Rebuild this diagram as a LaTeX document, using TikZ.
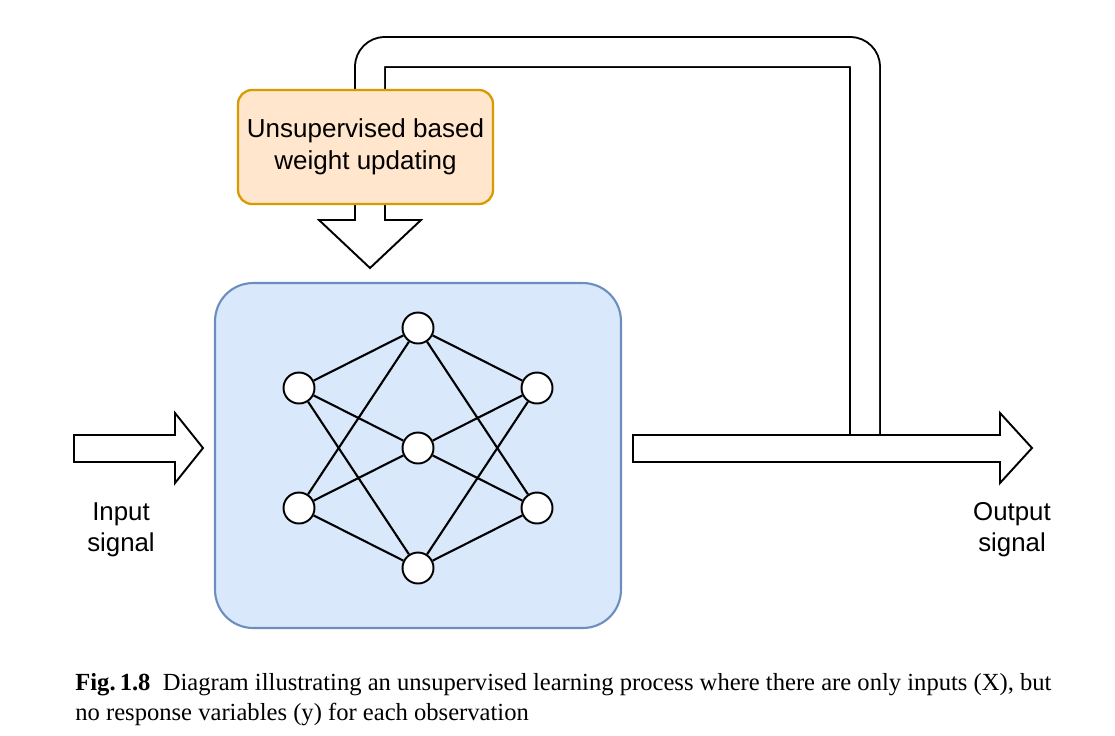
\documentclass[tikz,border=0pt]{standalone}
\usepackage{fontspec}
\setmainfont{Liberation Serif}
\setsansfont{Liberation Sans}
\usetikzlibrary{positioning,calc}

\definecolor{netfill}{HTML}{DAE8FC}
\definecolor{netdraw}{HTML}{6C8EBF}
\definecolor{updfill}{HTML}{FFE6CC}
\definecolor{upddraw}{HTML}{D79B00}

\begin{document}
\begin{tikzpicture}[
    x=0.02cm, y=-0.02cm,
    netbox/.style={rectangle, rounded corners=0.76cm, draw=netdraw, fill=netfill, line width=1.2pt,
                   minimum width=8.12cm, minimum height=6.9cm},
    updbox/.style={rectangle, rounded corners=0.28cm, draw=upddraw, fill=updfill, line width=1.3pt,
                   minimum width=5.1cm, minimum height=2.28cm, align=center,
                   font=\sffamily\fontsize{14.8}{18}\selectfont},
    neuron/.style={circle, draw, fill=white, line width=1.1pt, minimum size=0.62cm, inner sep=0pt},
    link/.style={line width=1.2pt},
    fatarrow/.style={draw, fill=white, line width=1.1pt, line join=miter},
    loopline/.style={line width=1.1pt, double=white, double distance=0.56cm, rounded corners=0.3cm},
    signal/.style={align=center, font=\sffamily\fontsize{14.7}{17.6}\selectfont},
    capt/.style={anchor=base west, inner sep=0pt, font=\fontsize{14}{17.6}\selectfont}
]
\useasboundingbox (0,0) rectangle (1115,735);

% Network box
\node[netbox] (net) at (418,455.5) {};

% Neurons
\foreach \n/\y in {i1/388, i2/508} {
    \node[neuron] (\n) at (299,\y) {};
}
\foreach \n/\y in {h1/328, h2/448, h3/568} {
    \node[neuron] (\n) at (418,\y) {};
}
\foreach \n/\y in {o1/388, o2/508} {
    \node[neuron] (\n) at (537,\y) {};
}
\foreach \i in {i1,i2} {
    \foreach \h in {h1,h2,h3} {
        \draw[link] (\i) -- (\h);
    }
}
\foreach \h in {h1,h2,h3} {
    \foreach \o in {o1,o2} {
        \draw[link] (\h) -- (\o);
    }
}

% Feedback loop
\coordinate (tap) at (865,435);
\coordinate (feed) at (370,90);
\draw[loopline] (tap) -- (865,52) -- (370,52) -- (feed);

% Input and output arrows
\draw[fatarrow] (74,435) -- (175,435) -- (175,413) -- (203,448) -- (175,483) -- (175,462) -- (74,462) -- cycle;
\draw[fatarrow] (633,435) -- (1000,435) -- (1000,413) -- (1032,448) -- (1000,483) -- (1000,462) -- (633,462) -- cycle;

% Weight update box
\draw[fatarrow] (355,200) -- (355,220) -- (319,220) -- (370,268) -- (421,220) -- (385,220) -- (385,200);
\node[updbox] (upd) at (365.5,147) {Unsupervised based\\weight updating};

% Labels
\node[signal] (inlabel) at (121,530) {Input\\signal};
\node[signal] (outlabel) at (1012,530) {Output\\signal};

% Caption
\node[capt] (cap1) at (75,690) {\textbf{Fig.\,1.8}\enspace Diagram illustrating an unsupervised learning process where there are only inputs (X), but};
\node[capt] (cap2) at (75,720) {no response variables (y) for each observation};

\end{tikzpicture}
\end{document}
